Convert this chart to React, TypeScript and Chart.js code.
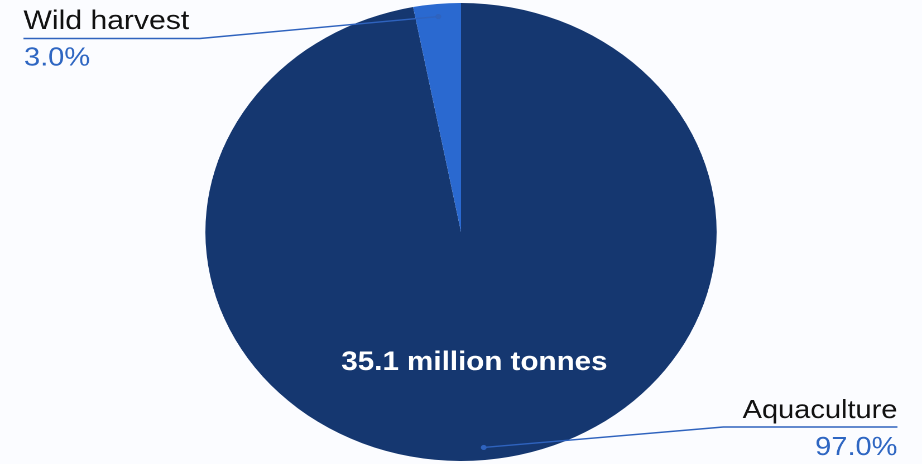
import React, { useEffect, useRef } from "react";
import { Chart, registerables } from "chart.js";

Chart.register(...registerables);

const categories = ["Aquaculture", "Wild harvest"];
const shares = [97.0, 3.0];
const shareLabels = ["97.0%", "3.0%"];
const sliceColors = ["#153770", "#2a69d0"];
const centerLabel = "35.1 million tonnes";

const STRETCH = 922 / 826;
const FONT = '"Liberation Sans", Arial, sans-serif';
const LINE_COLOR = "#2f63be";
const PCT_COLOR = "#2e66c2";

const labelPlugin = {
  id: "labels",
  afterDraw(chart: any) {
    const ctx = chart.ctx as CanvasRenderingContext2D;
    const arcs = chart.getDatasetMeta(0).data;
    const dot = (i: number) => {
      const a: any = arcs[i];
      const mid = (a.startAngle + a.endAngle) / 2;
      const r = a.outerRadius * 0.945;
      return { x: a.x + Math.cos(mid) * r, y: a.y + Math.sin(mid) * r };
    };
    ctx.save();
    // leader lines
    ctx.strokeStyle = LINE_COLOR;
    ctx.lineWidth = 1.4;
    ctx.fillStyle = LINE_COLOR;
    // Wild harvest (index 1)
    const d1 = dot(1);
    ctx.beginPath();
    ctx.moveTo(d1.x, d1.y);
    ctx.lineTo(179, 38.5);
    ctx.lineTo(21, 38.5);
    ctx.stroke();
    ctx.beginPath();
    ctx.arc(d1.x, d1.y, 2.6, 0, Math.PI * 2);
    ctx.fill();
    // Aquaculture (index 0)
    const d0 = dot(0);
    ctx.beginPath();
    ctx.moveTo(d0.x, d0.y);
    ctx.lineTo(648, 427);
    ctx.lineTo(804, 427);
    ctx.stroke();
    ctx.beginPath();
    ctx.arc(d0.x, d0.y, 2.6, 0, Math.PI * 2);
    ctx.fill();

    ctx.textBaseline = "alphabetic";
    // Wild harvest texts
    ctx.textAlign = "left";
    ctx.fillStyle = "#111111";
    ctx.font = `27px ${FONT}`;
    ctx.fillText(categories[1], 21, 29);
    ctx.fillStyle = PCT_COLOR;
    ctx.font = `26px ${FONT}`;
    ctx.fillText(shareLabels[1], 21.5, 65.5);
    // Aquaculture texts
    ctx.textAlign = "right";
    ctx.fillStyle = "#111111";
    ctx.font = `26px ${FONT}`;
    ctx.fillText(categories[0], 804, 418);
    ctx.fillStyle = PCT_COLOR;
    ctx.fillText(shareLabels[0], 804, 455);
    // center label
    ctx.textAlign = "center";
    ctx.fillStyle = "#ffffff";
    ctx.font = `bold 26.5px ${FONT}`;
    ctx.fillText(centerLabel, 425, 370);
    ctx.restore();
  },
};

export default function App() {
  const ref = useRef<HTMLCanvasElement | null>(null);
  useEffect(() => {
    if (!ref.current) return;
    const chart = new Chart(ref.current, {
      type: "pie",
      data: {
        labels: categories,
        datasets: [
          {
            data: shares,
            backgroundColor: sliceColors,
            borderWidth: 0,
          },
        ],
      },
      options: {
        animation: false,
        responsive: true,
        maintainAspectRatio: false,
        devicePixelRatio: 2,
        layout: { padding: { top: 3, bottom: 3, left: 0, right: 0 } },
        plugins: {
          legend: { display: false },
          tooltip: { enabled: false },
        },
      },
      plugins: [labelPlugin],
    });
    return () => chart.destroy();
  }, []);
  return (
    <div
      style={{
        position: "fixed",
        left: 0,
        top: 0,
        width: 922,
        height: 464,
        overflow: "hidden",
        background: "#fbfcff",
      }}
    >
      <div
        style={{
          position: "relative",
          width: 826,
          height: 464,
          transform: `scaleX(${STRETCH})`,
          transformOrigin: "0 0",
        }}
      >
        <canvas ref={ref} />
      </div>
    </div>
  );
}
